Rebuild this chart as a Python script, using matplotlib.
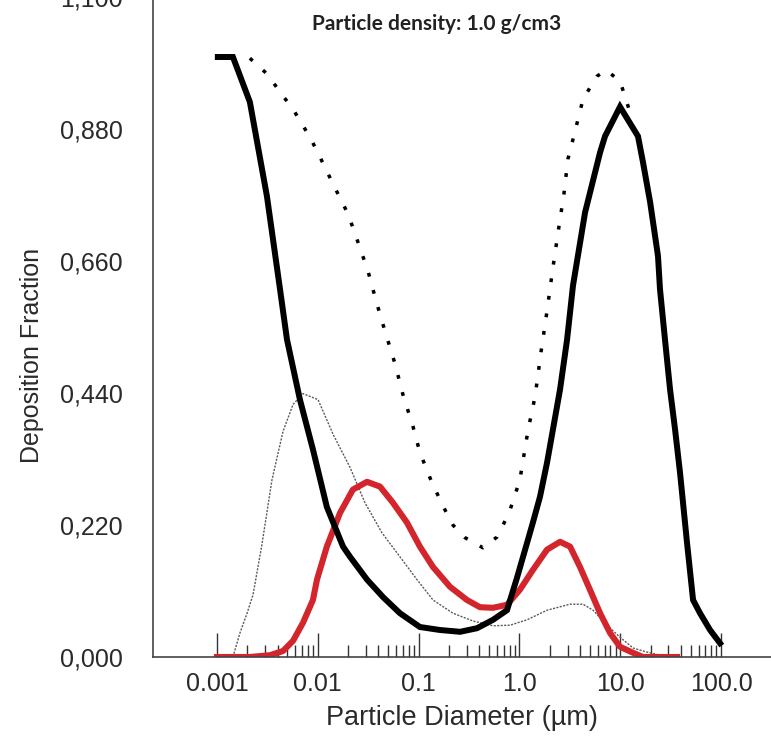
#!/usr/bin/env python3
"""Deposition fraction vs particle diameter, particle density 1.0 g/cm3."""

import numpy as np
import matplotlib
matplotlib.use("Agg")
import matplotlib.pyplot as plt
from matplotlib.ticker import FixedLocator, NullFormatter

# total deposition (dotted)
total_d = [0.00212, 0.00313, 0.00452, 0.00568, 0.00838, 0.01005, 0.0142, 0.0200,
           0.0245, 0.0315, 0.0387, 0.0464, 0.0583, 0.0700, 0.0880, 0.103, 0.136,
           0.183, 0.219, 0.288, 0.435, 0.600, 0.789, 1.01, 1.22, 1.43, 1.64, 1.84,
           2.15, 2.47, 2.77, 3.03, 3.56, 4.28, 5.89, 7.23, 9.95, 12.5]
total_f = [0.998, 0.972, 0.935, 0.913, 0.866, 0.840, 0.788, 0.738,
           0.696, 0.643, 0.588, 0.543, 0.489, 0.437, 0.384, 0.341, 0.290,
           0.245, 0.220, 0.199, 0.182, 0.200, 0.240, 0.295, 0.379, 0.434, 0.509, 0.566,
           0.649, 0.718, 0.773, 0.830, 0.876, 0.930, 0.968, 0.978, 0.960, 0.908]

# head airways (thick solid black)
head_d = [0.00102, 0.00144, 0.00212, 0.00313, 0.00422, 0.00495, 0.00665, 0.00895,
          0.0123, 0.0178, 0.0209, 0.0308, 0.0443, 0.0653, 0.103, 0.163, 0.258,
          0.380, 0.547, 0.753, 0.946, 1.19, 1.36, 1.60, 1.88, 2.15, 2.53, 2.97,
          3.40, 4.48, 6.31, 7.07, 9.95, 15.0, 16.8, 19.8, 23.7, 24.8, 27.8, 31.2,
          35.0, 39.2, 46.0, 52.8, 61.9, 77.8, 97.7]
head_f = [1.0, 1.0, 0.925, 0.768, 0.613, 0.529, 0.429, 0.346,
          0.250, 0.184, 0.167, 0.129, 0.100, 0.073, 0.050, 0.045, 0.042,
          0.048, 0.062, 0.078, 0.132, 0.190, 0.224, 0.267, 0.324, 0.379, 0.446, 0.529,
          0.619, 0.741, 0.841, 0.868, 0.917, 0.868, 0.825, 0.758, 0.668, 0.613, 0.529, 0.446,
          0.379, 0.307, 0.190, 0.095, 0.073, 0.045, 0.023]

# tracheobronchial (thin grey dotted)
tb_d = [0.00144, 0.00169, 0.00199, 0.00228, 0.00279, 0.00351, 0.00452, 0.00568,
        0.00713, 0.01005, 0.0142, 0.0209, 0.0294, 0.0433, 0.0653, 0.0964, 0.139,
        0.219, 0.347, 0.547, 0.807, 1.19, 1.88, 3.18, 4.28, 5.37, 7.40, 9.95,
        13.4, 18.5, 24.8]
tb_f = [0.0, 0.040, 0.073, 0.104, 0.187, 0.295, 0.376, 0.421,
        0.439, 0.429, 0.371, 0.316, 0.257, 0.207, 0.167, 0.129, 0.095,
        0.073, 0.060, 0.052, 0.053, 0.062, 0.078, 0.088, 0.088, 0.078, 0.053, 0.033,
        0.015, 0.008, 0.003]

# alveolar (red)
alv_d = [0.00100, 0.00212, 0.00336, 0.00452, 0.00568, 0.00713, 0.00895, 0.00982,
         0.0123, 0.0166, 0.0223, 0.0308, 0.0414, 0.0557, 0.0767, 0.103, 0.139,
         0.205, 0.302, 0.406, 0.547, 0.753, 1.01, 1.36, 1.88, 2.53, 3.18, 3.99,
         5.01, 6.31, 7.93, 9.95, 13.4, 16.8, 36.6]
alv_f = [0.0, 0.0, 0.003, 0.010, 0.027, 0.057, 0.095, 0.129,
         0.184, 0.240, 0.279, 0.292, 0.284, 0.257, 0.224, 0.184, 0.150,
         0.117, 0.095, 0.083, 0.082, 0.087, 0.112, 0.145, 0.179, 0.192, 0.184, 0.150,
         0.112, 0.073, 0.040, 0.017, 0.007, 0.0, 0.0]

x_ticks = [0.001, 0.01, 0.1, 1.0, 10.0, 100.0]
x_ticklabels = ["0.001", "0.01", "0.1", "1.0", "10.0", "100.0"]
y_ticks = [0.0, 0.22, 0.44, 0.66, 0.88, 1.10]

TXT = "#2a2a2a"


def main():
    plt.rcParams['font.family'] = ['Liberation Sans', 'DejaVu Sans']

    fig = plt.figure(figsize=(7.71, 7.55), dpi=100)
    ax = fig.add_axes([153 / 771, 98 / 755, 618 / 771, 660 / 755])

    ax.plot(total_d, total_f, color="black", lw=2.5,
            linestyle=(0, (1.1, 4.0)), dash_capstyle="butt")
    ax.plot(tb_d, tb_f, color="#5a5a5a", lw=1.0, linestyle=(0, (1.5, 1.0)))
    ax.plot(alv_d, alv_f, color="#d3252c", lw=4.4, solid_joinstyle="round")
    ax.plot(head_d, head_f, color="black", lw=4.3, solid_joinstyle="miter")

    ax.set_xscale("log")
    ax.set_xlim(2.32e-4, 313)
    ax.set_ylim(0, 1.1)

    ax.set_xticks(x_ticks, labels=x_ticklabels)
    minors = [m * 10.0 ** e for e in range(-3, 2) for m in range(2, 10)]
    ax.xaxis.set_minor_locator(FixedLocator(minors))
    ax.xaxis.set_minor_formatter(NullFormatter())
    ax.tick_params(axis="x", which="major", direction="in", length=17, width=1.0,
                   colors="#333333", labelcolor=TXT, labelsize=18, pad=11)
    ax.tick_params(axis="x", which="minor", direction="in", length=8.5, width=1.0,
                   colors="#333333")

    ax.set_yticks(y_ticks, labels=[f"{v:.3f}".replace(".", ",") for v in y_ticks])
    ax.tick_params(axis="y", length=0, labelcolor=TXT, labelsize=18, pad=22)

    for side in ("top", "right"):
        ax.spines[side].set_visible(False)
    for side in ("left", "bottom"):
        ax.spines[side].set_color("#444444")
        ax.spines[side].set_linewidth(1.2)

    ax.set_xlabel("Particle Diameter (µm)", fontsize=19.5, color=TXT, labelpad=6)
    fig.text(32 / 771, 1 - 355 / 755, "Deposition Fraction", fontsize=18,
             color=TXT, rotation=90, ha="center", va="center")

    fig.text(437 / 771, 1 - 24 / 755, "Particle density: 1.0 g/cm3",
             fontsize=15, fontweight="bold", family=["Lato", "DejaVu Sans"],
             color="#222222", ha="center", va="center")

    fig.savefig("out.png", dpi=100)


if __name__ == "__main__":
    main()
